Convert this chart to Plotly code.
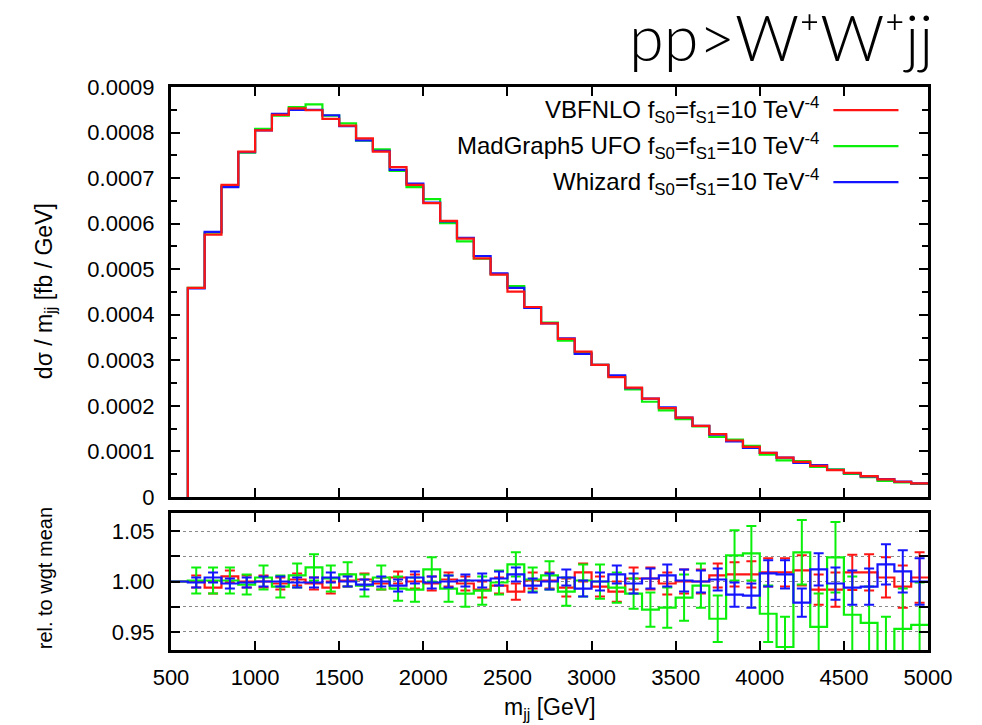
import plotly.graph_objects as go

# ---------------- data ----------------
bin_lo = list(range(500, 5000, 100))          # lower bin edges [GeV]
x_max = 5000
bin_c = [b + 50 for b in bin_lo]              # bin centres

vbfnlo = [0, 0.000459, 0.000576, 0.000685, 0.000758, 0.000805, 0.000839, 0.000853, 0.000849,
          0.000830, 0.000815, 0.000787, 0.000758, 0.000724, 0.000685, 0.000645, 0.000606,
          0.000567, 0.000524, 0.000488, 0.000451, 0.000417, 0.000381, 0.000347, 0.000319,
          0.000290, 0.000263, 0.000240, 0.000216, 0.000195, 0.000174, 0.000156, 0.000138,
          0.000124, 0.000110, 0.0000967, 0.0000866, 0.0000771, 0.0000684, 0.0000590,
          0.0000531, 0.0000459, 0.0000386, 0.0000334, 0.0000299]
madgraph = [0, 0.000459, 0.000580, 0.000682, 0.000756, 0.000808, 0.000837, 0.000856, 0.000862,
            0.000837, 0.000820, 0.000782, 0.000763, 0.000716, 0.000680, 0.000654, 0.000601,
            0.000561, 0.000523, 0.000489, 0.000463, 0.000417, 0.000383, 0.000343, 0.000316,
            0.000290, 0.000264, 0.000236, 0.000209, 0.000190, 0.000171, 0.000155, 0.000132,
            0.000126, 0.000112, 0.0000927, 0.0000803, 0.0000785, 0.0000659, 0.0000609,
            0.0000509, 0.0000436, 0.0000355, 0.0000320, 0.0000285]
whizard = [0, 0.000458, 0.000582, 0.000680, 0.000757, 0.000805, 0.000841, 0.000850, 0.000850,
           0.000838, 0.000814, 0.000783, 0.000760, 0.000718, 0.000688, 0.000646, 0.000605,
           0.000569, 0.000529, 0.000491, 0.000459, 0.000415, 0.000381, 0.000348, 0.000314,
           0.000290, 0.000267, 0.000239, 0.000216, 0.000197, 0.000174, 0.000156, 0.000137,
           0.000122, 0.000108, 0.0000966, 0.0000864, 0.0000748, 0.0000698, 0.0000594,
           0.0000523, 0.0000453, 0.0000391, 0.0000339, 0.0000298]

ratio_vbfnlo = [1.000, 1.000, 0.994, 1.005, 1.000, 1.000, 0.998, 1.002, 0.998, 0.994, 1.001,
                1.002, 0.998, 1.004, 1.000, 0.998, 1.002, 0.998, 0.992, 0.996, 0.990, 1.001,
                1.001, 0.994, 1.009, 0.995, 0.990, 1.003, 1.003, 0.998, 1.000, 1.000, 1.006,
                1.007, 1.007, 1.009, 1.009, 1.011, 0.992, 0.992, 1.009, 1.009, 1.004, 0.995,
                1.004]
err_vbfnlo = [0, 0.006, 0.006, 0.006, 0.006, 0.006, 0.006, 0.006, 0.006, 0.006, 0.006,
              0.006, 0.006, 0.006, 0.007, 0.007, 0.007, 0.007, 0.008, 0.008, 0.008, 0.008,
              0.008, 0.009, 0.009, 0.010, 0.010, 0.011, 0.011, 0.011, 0.012, 0.012, 0.012,
              0.012, 0.013, 0.014, 0.014, 0.015, 0.015, 0.017, 0.0175, 0.018, 0.020, 0.021,
              0.025]

ratio_madgraph = [1.000, 1.001, 1.001, 1.001, 0.997, 1.004, 0.995, 1.006, 1.014, 1.003, 1.007,
                  0.996, 1.004, 0.993, 0.992, 1.012, 0.993, 0.988, 0.991, 0.999, 1.017, 1.002,
                  1.006, 0.990, 1.001, 1.000, 0.994, 0.988, 0.972, 0.974, 0.984, 0.996, 0.963,
                  1.026, 1.028, 0.968, 0.935, 1.029, 0.955, 1.024, 0.967, 0.959, 0.925, 0.953,
                  0.957]
err_madgraph = [0, 0.013, 0.013, 0.013, 0.010, 0.012, 0.011, 0.012, 0.013, 0.013, 0.012,
                0.011, 0.012, 0.012, 0.012, 0.012, 0.013, 0.013, 0.014, 0.012, 0.012, 0.012,
                0.014, 0.014, 0.016, 0.017, 0.015, 0.015, 0.017, 0.020, 0.023, 0.022, 0.023,
                0.025, 0.027, 0.028, 0.030, 0.032, 0.033, 0.035, 0.038, 0.036, 0.040, 0.040,
                0.042]

ratio_whizard = [1.000, 0.999, 1.004, 0.998, 0.999, 1.000, 1.000, 0.999, 0.999, 1.004, 1.000,
                 0.997, 1.000, 0.996, 1.004, 0.999, 1.000, 1.001, 1.001, 1.003, 1.007, 0.996,
                 1.000, 1.004, 0.993, 1.000, 1.007, 0.998, 1.003, 1.006, 1.001, 1.000, 1.002,
                 0.987, 0.986, 1.008, 1.007, 0.979, 1.012, 0.998, 0.994, 0.995, 1.017, 1.010,
                 1.000]
err_whizard = [0, 0.005, 0.005, 0.005, 0.005, 0.005, 0.005, 0.005, 0.005, 0.005, 0.005,
               0.005, 0.005, 0.006, 0.006, 0.006, 0.006, 0.006, 0.007, 0.007, 0.007, 0.007,
               0.008, 0.008, 0.008, 0.009, 0.009, 0.010, 0.010, 0.011, 0.011, 0.011, 0.011,
               0.012, 0.012, 0.013, 0.014, 0.014, 0.016, 0.016, 0.017, 0.018, 0.020, 0.021,
               0.023]

y_tick_vals = [0, 0.0001, 0.0002, 0.0003, 0.0004, 0.0005, 0.0006, 0.0007, 0.0008, 0.0009]
y_tick_text = ["0", "0.0001", "0.0002", "0.0003", "0.0004", "0.0005", "0.0006", "0.0007",
               "0.0008", "0.0009"]

labels = ["VBFNLO", "MadGraph5 UFO", "Whizard"]
colors = ["#ff1414", "#0af00a", "#1414ff"]
# ---------------------------------------------------------------

FONT = "Liberation Sans, Arial, Helvetica, sans-serif"
x_steps = bin_lo + [x_max]


def steps(v):
    return list(v) + [v[-1]]


def top_steps(v):
    # start the histogram at the first filled bin edge, rising from zero
    xs = [bin_lo[1]] + x_steps[1:]
    ys = [v[0]] + steps(v)[1:]
    return xs, ys


fig = go.Figure()

# top panel (draw order: green, blue, red on top)
top_series = [(madgraph, 1), (whizard, 2), (vbfnlo, 0)]
for vals, idx in top_series:
    xs, ys = top_steps(vals)
    fig.add_trace(go.Scatter(x=xs, y=ys, mode="lines", line_shape="hv",
                             line=dict(color=colors[idx], width=2.2), showlegend=False,
                             xaxis="x2", yaxis="y2", hoverinfo="skip"))

# bottom panel
bottom_series = [(ratio_vbfnlo, err_vbfnlo, 0), (ratio_madgraph, err_madgraph, 1),
                 (ratio_whizard, err_whizard, 2)]
for r, e, idx in bottom_series:
    fig.add_trace(go.Scatter(x=x_steps, y=steps(r), mode="lines", line_shape="hv",
                             line=dict(color=colors[idx], width=2.2), showlegend=False,
                             xaxis="x", yaxis="y", hoverinfo="skip"))
    fig.add_trace(go.Scatter(x=bin_c[1:], y=r[1:], mode="markers",
                             marker=dict(size=0.1, color=colors[idx]),
                             error_y=dict(type="data", array=e[1:], visible=True,
                                          color=colors[idx], thickness=2, width=5),
                             showlegend=False, xaxis="x", yaxis="y", hoverinfo="skip"))

axis_common = dict(showline=True, linecolor="black", linewidth=3, mirror="ticks",
                   ticks="inside", tickcolor="black", tickwidth=2, zeroline=False,
                   showgrid=False,
                   tickfont=dict(family=FONT, size=22, color="black"))

top_dom = [0.2718, 1.0]
bot_dom = [0.0, 0.2433]

fig.update_layout(
    width=982, height=725,
    margin=dict(l=171, r=54, t=87, b=75),
    paper_bgcolor="white", plot_bgcolor="white",
    showlegend=False,
    xaxis=dict(axis_common, domain=[0, 1], anchor="y", range=[500, 5000],
               tickmode="linear", tick0=500, dtick=500, ticklen=9,
               ticklabelstandoff=6),
    yaxis=dict(axis_common, domain=bot_dom, anchor="x", range=[0.932, 1.068],
               tickvals=[0.95, 1.0, 1.05], tickformat=".2f", ticklen=9,
               ticklabelstandoff=9,
               showgrid=False,
               minor=dict(tickmode="linear", tick0=0.95, dtick=0.025, ticks="inside",
                          ticklen=9, tickwidth=2, tickcolor="black", showgrid=True,
                          gridcolor="#8a8a8a", griddash="dot", gridwidth=1)),
    xaxis2=dict(axis_common, domain=[0, 1], anchor="y2", range=[500, 5000],
                matches="x", tickmode="linear", tick0=500, dtick=500, ticklen=9,
                showticklabels=False),
    yaxis2=dict(axis_common, domain=top_dom, anchor="x2", range=[0, 0.0009],
                tickmode="array", tickvals=y_tick_vals, ticktext=y_tick_text, ticklen=9,
                ticklabelstandoff=9,
                minor=dict(tickmode="linear", tick0=0, dtick=0.00005, ticks="inside",
                           ticklen=6, tickwidth=2, tickcolor="black")),
)

# legend (text right-aligned, line sample on the right, as in the reference)
leg_y = [0.959, 0.895, 0.831]
for i, name in enumerate(labels):
    fig.add_annotation(xref="paper", yref="paper", x=0.859, y=leg_y[i],
                       xanchor="right", yanchor="middle", showarrow=False,
                       text=f"{name} f<sub>S0</sub>=f<sub>S1</sub>=10 TeV<sup>-4</sup>",
                       font=dict(family=FONT, size=24, color="black"))
    fig.add_shape(type="line", xref="paper", yref="paper", x0=0.875, x1=0.961,
                  y0=leg_y[i], y1=leg_y[i], line=dict(color=colors[i], width=2.2))

# axis titles
fig.add_annotation(xref="paper", yref="paper", x=-0.166, y=0.638, textangle=-90,
                   showarrow=False, xanchor="center", yanchor="middle",
                   text="dσ / m<sub>jj</sub> [fb / GeV]",
                   font=dict(family=FONT, size=23, color="black"))
fig.add_annotation(xref="paper", yref="paper", x=-0.166, y=0.128, textangle=-90,
                   showarrow=False, xanchor="center", yanchor="middle",
                   text="rel. to wgt mean",
                   font=dict(family=FONT, size=20, color="black"))
fig.add_annotation(xref="paper", yref="paper", x=0.5, y=-0.104,
                   showarrow=False, xanchor="center", yanchor="middle",
                   text="m<sub>jj</sub> [GeV]",
                   font=dict(family=FONT, size=23, color="black"))

# big title
fig.add_annotation(xref="paper", yref="paper", x=1.009, y=1.02,
                   showarrow=False, xanchor="right", yanchor="bottom",
                   text="pp&gt;W⁺W⁺jj",
                   font=dict(family="Lato", size=63, color="black", weight=300))

fig.write_html("out.html")
